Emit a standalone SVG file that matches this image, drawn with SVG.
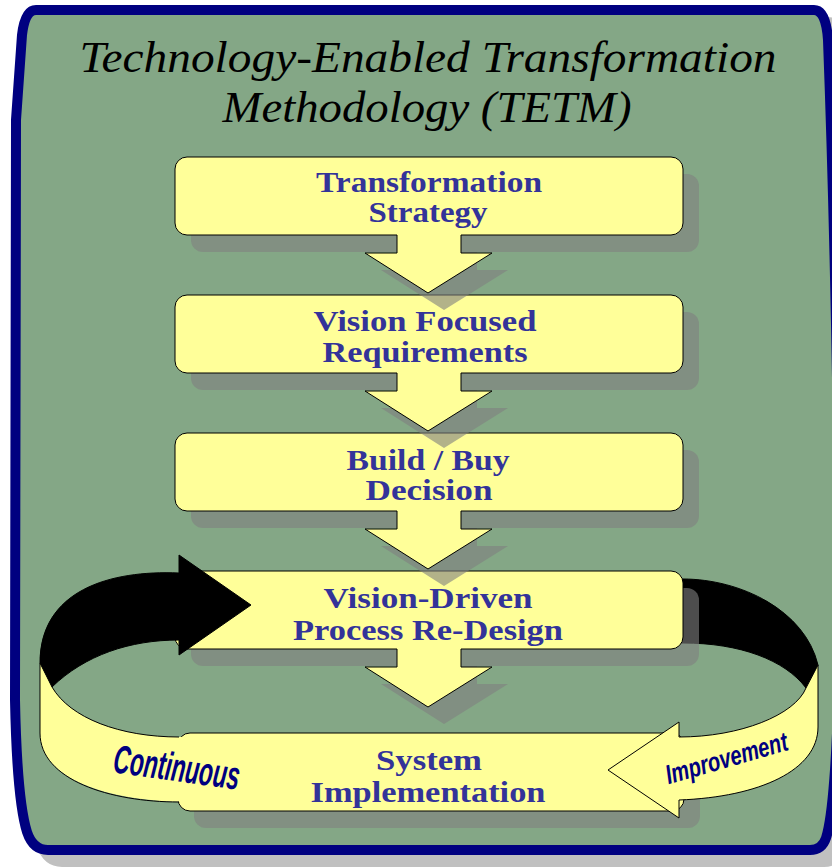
<svg xmlns="http://www.w3.org/2000/svg" width="832" height="867" viewBox="0 0 832 867">
<style>
.box{fill:#FFFF99;stroke:#000;stroke-width:1}
.yel{fill:#FFFF99;stroke:#000;stroke-width:1;stroke-linejoin:miter}
.edge{fill:none;stroke:#000;stroke-width:1}
.blk{fill:#000;stroke:#000;stroke-width:1}
.bt{font-family:"Liberation Serif",serif;font-weight:bold;font-size:30px;fill:#333399;text-anchor:middle}
.bt2{font-family:"Liberation Serif",serif;font-weight:bold;font-size:30px;fill:#333399;text-anchor:middle}
.title{font-family:"Liberation Serif",serif;font-style:italic;font-size:44px;fill:#000;text-anchor:middle}
.rib{font-family:"Liberation Sans Narrow","Liberation Sans",sans-serif;font-weight:bold;font-style:italic;fill:#000080;text-anchor:middle}
</style>
<defs>
<path id="frame" d="M36,10 L814,10 Q826,10 828,40 C834,200 840,450 839,650 C838,760 832,820 826,838 Q822,850 810,850 L48,850 Q33,850 27,832 Q17,800 15,700 L16,120 L22,35 Q25,10 36,10 Z"/>
</defs>
<g id="frame-bg">
<use href="#frame" transform="translate(14,12)" fill="#C0C0C0" stroke="#C0C0C0" stroke-width="10"/>
<use href="#frame" fill="#84A786" stroke="#000080" stroke-width="10"/>
</g>
<g id="title">
<text class="title" x="428" y="72" textLength="697" lengthAdjust="spacingAndGlyphs">Technology-Enabled Transformation</text>
<text class="title" x="427" y="122" textLength="409" lengthAdjust="spacingAndGlyphs">Methodology (TETM)</text>
</g>
<g id="loop-back-right">
<path class="blk" d="M670,579 L683,579 C740,579 805,610 818,665 L806,688 C785,660 740,643 683,643 L670,643 Z"/>
</g>
<g id="box-shadows" fill="#808080" opacity="0.6">
<rect x="191" y="174" width="508" height="78" rx="12"/>
<rect x="191" y="312" width="508" height="78" rx="12"/>
<rect x="191" y="450" width="508" height="78" rx="12"/>
<rect x="191" y="588" width="508" height="78" rx="12"/>
<rect x="194" y="750" width="506" height="78" rx="12"/>
</g>
<g id="node1"><rect class="box" x="175" y="157" width="508" height="78" rx="12"/></g>
<g id="node2"><rect class="box" x="175" y="295" width="508" height="78" rx="12"/></g>
<g id="node3"><rect class="box" x="175" y="433" width="508" height="78" rx="12"/></g>
<g id="node4"><rect class="box" x="175" y="571" width="508" height="78" rx="12"/></g>
<g id="node5"><rect class="box" x="178" y="733" width="506" height="78" rx="12"/></g>
<g id="loop-left">
<path d="M40,663 L40,733 C40,780 110,802 192,802 L192,737 L178,737 C120,737 70,718 52,687 Z" fill="#FFFF99"/>
<path class="edge" d="M40,663 L40,733 C40,780 110,802 179,802"/>
<path class="edge" d="M52,687 C70,718 120,737 179,737"/>
<path class="blk" d="M179,573 C110,570 40,590 40,663 L52,687 C85,655 130,640 179,640 L179,655 L251,605 L179,555 Z"/>
</g>
<g id="loop-right">
<path class="yel" d="M818,665 L818,727 C818,770 760,797 679,800 L679,818 L608,770 L679,722 L679,737 C740,737 795,715 806,688 Z"/>
</g>
<g id="connectors">
<g fill="#808080" opacity="0.6">
<polygon points="413,252 477,252 477,270 508,270 444,310 381,270 413,270"/>
<polygon points="413,390 477,390 477,408 508,408 444,448 381,408 413,408"/>
<polygon points="413,528 477,528 477,546 508,546 444,586 381,546 413,546"/>
<polygon points="413,666 477,666 477,684 508,684 444,724 381,684 413,684"/>
</g>
<g>
<polygon points="397,233 461,233 461,253 492,253 428,293 365,253 397,253" fill="#FFFF99"/>
<polyline class="edge" points="397,235 397,253 365,253 428,293 492,253 461,253 461,235"/>
<polygon points="397,371 461,371 461,391 492,391 428,431 365,391 397,391" fill="#FFFF99"/>
<polyline class="edge" points="397,373 397,391 365,391 428,431 492,391 461,391 461,373"/>
<polygon points="397,509 461,509 461,529 492,529 428,569 365,529 397,529" fill="#FFFF99"/>
<polyline class="edge" points="397,511 397,529 365,529 428,569 492,529 461,529 461,511"/>
<polygon points="397,647 461,647 461,667 492,667 428,707 365,667 397,667" fill="#FFFF99"/>
<polyline class="edge" points="397,649 397,667 365,667 428,707 492,667 461,667 461,649"/>
</g>
</g>
<g id="labels">
<text class="bt" x="429" y="192" textLength="226" lengthAdjust="spacingAndGlyphs">Transformation</text>
<text class="bt" x="428" y="222" textLength="119" lengthAdjust="spacingAndGlyphs">Strategy</text>
<text class="bt" x="425" y="331" textLength="223" lengthAdjust="spacingAndGlyphs">Vision Focused</text>
<text class="bt" x="425" y="362" textLength="205" lengthAdjust="spacingAndGlyphs">Requirements</text>
<text class="bt" x="428" y="470" textLength="163" lengthAdjust="spacingAndGlyphs">Build / Buy</text>
<text class="bt" x="429" y="500" textLength="127" lengthAdjust="spacingAndGlyphs">Decision</text>
<text class="bt2" x="428" y="608" textLength="209" lengthAdjust="spacingAndGlyphs">Vision-Driven</text>
<text class="bt2" x="428" y="640" textLength="270" lengthAdjust="spacingAndGlyphs">Process Re-Design</text>
<text class="bt2" x="429" y="770" textLength="106" lengthAdjust="spacingAndGlyphs">System</text>
<text class="bt2" x="428" y="802" textLength="235" lengthAdjust="spacingAndGlyphs">Implementation</text>
<text class="rib" x="175" y="781" font-size="40" textLength="127" lengthAdjust="spacingAndGlyphs" transform="rotate(8 175 781)">Continuous</text>
<text class="rib" x="729" y="767" font-size="27" textLength="126" lengthAdjust="spacingAndGlyphs" transform="rotate(-16 729 767)">Improvement</text>
</g>
</svg>
